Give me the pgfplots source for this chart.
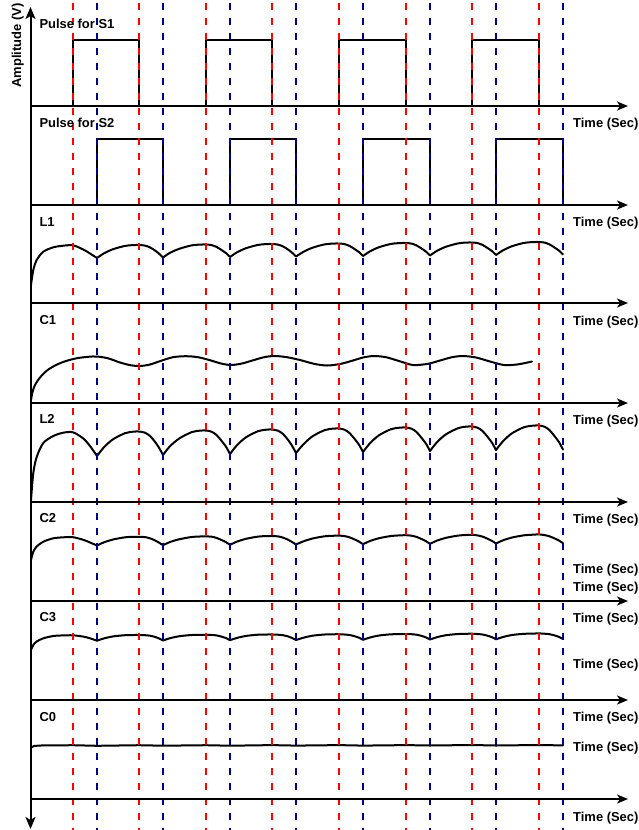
\documentclass[border=0pt]{standalone}
\usepackage{pgfplots}
\pgfplotsset{compat=1.18}
\usepackage{pgfplotstable}
\usepackage{fontspec}
\setmainfont{Liberation Sans}
\usetikzlibrary{arrows.meta}

\definecolor{guidered}{RGB}{255,0,0}
\definecolor{guideblue}{RGB}{0,0,128}

% Arched waveforms (x and y in drawing units, y measured downward).
% Rows with nan split each curve at its cusps.
\pgfplotstableread{
x L1 L2 C2 C3
31 285 500 560 650
33.3 270 473 551.7 645
36.7 260 457 546.5 641.5
43.3 251.7 443 541.7 638.3
53.3 247.3 436 538.3 636
63.3 245.7 432.7 537.3 635.4
73 245.3 432.3 537.2 635.3
83.3 249.5 438.5 539.8 636.6
90 253.5 446 542.5 638.3
97 258 456 545.5 640.7
97 nan nan nan nan
97 258 456 545.5 640.7
104 253.3 447.2 542.3 638.4
113 249.2 439.3 539.5 636.4
125 245.9 433.2 537.3 635.2
133 245.1 431.7 536.8 635.0
139 245 431.5 536.8 635.0
145 245.6 432.7 537.1 635.2
150 247.4 436.0 538.3 635.7
155 250.5 441.8 540.4 636.9
159 253.6 447.7 542.6 638.4
163 257.5 455 545.2 640.5
163 nan nan nan nan
163 257.5 455 545.2 640.5
170 252.8 446.2 542.0 638.2
179.5 248.7 438.3 539.2 636.2
191.5 245.4 432.2 537.0 635.0
199.5 244.6 430.7 536.5 634.8
206 244.5 430.5 536.4 634.8
211.5 245.1 431.7 536.7 634.9
216.5 246.9 435.0 537.9 635.4
221.5 250.0 440.8 540.0 636.6
226 253.1 446.7 542.2 638.1
230 257 454 544.8 640.2
230 nan nan nan nan
230 257 454 544.8 640.2
237 252.3 445.2 541.6 637.9
246 248.2 437.3 538.8 635.9
258 244.9 431.2 536.6 634.7
266 244.1 429.7 536.1 634.5
272 244 429.5 536.0 634.5
278 244.6 430.7 536.4 634.7
283 246.4 434.0 537.6 635.2
288 249.5 439.8 539.7 636.4
292 252.6 445.7 541.9 637.9
296 256.5 453 544.5 640.0
296 nan nan nan nan
296 256.5 453 544.5 640.0
303.5 251.8 444.2 541.3 637.7
312.5 247.7 436.3 538.5 635.7
324.5 244.4 430.2 536.3 634.5
332.5 243.6 428.7 535.8 634.3
339 243.5 428.5 535.6 634.2
344.5 244.1 429.7 536.1 634.5
349.5 245.9 433.0 537.3 635.0
354.5 249.0 438.8 539.4 636.2
359 252.1 444.7 541.6 637.7
363 256 452 544.2 639.8
363 nan nan nan nan
363 256 452 544.2 639.8
370 251.3 443.2 541.0 637.5
379 247.2 435.3 538.2 635.5
391 243.9 429.2 536.0 634.3
399.5 243.1 427.7 535.4 634.1
406 243 427.5 535.2 634.0
411.5 243.6 428.7 535.7 634.2
416.5 245.4 432.0 536.9 634.7
421.5 248.5 437.8 539.0 635.9
426 251.6 443.7 541.2 637.4
430 255.5 451 543.8 639.5
430 nan nan nan nan
430 255.5 451 543.8 639.5
437 250.8 442.2 540.6 637.2
446 246.7 434.3 537.8 635.2
458 243.4 428.2 535.6 634.0
465.5 242.6 426.7 535.0 633.8
472 242.5 426.5 534.8 633.7
477.5 243.1 427.7 535.4 634.0
482.5 244.9 431.0 536.6 634.5
487.5 248.0 436.8 538.7 635.7
492 251.1 442.7 540.9 637.2
496 255 450 543.5 639.3
496 nan nan nan nan
496 255 450 543.5 639.3
503 250.3 441.2 540.3 637.0
512 246.2 433.3 537.5 635.0
524 242.9 427.2 535.3 633.8
532.5 242.1 425.7 534.7 633.6
539 242 425.5 534.4 633.4
544.5 242.6 426.7 535.1 633.7
549.5 244.4 430.1 536.3 634.2
554.5 247.5 436.1 538.4 635.4
559 250.6 442.1 540.6 636.9
563 254.5 449.5 543.2 639.0
}\arches

\begin{document}
\begin{tikzpicture}[font=\bfseries\fontsize{13}{15}\selectfont]
\begin{axis}[
  at={(0,0)}, anchor=south west,
  width=639bp, height=830bp, scale only axis,
  xmin=0, xmax=639, ymin=0, ymax=830, y dir=reverse,
  hide axis, clip=false,
  unbounded coords=jump,
]
% switching pulses
\addplot[black, line width=2bp, line join=miter] coordinates {
  (73,106) (73,40) (139,40) (139,106) (139,nan)
  (206,106) (206,40) (272,40) (272,106) (272,nan)
  (339,106) (339,40) (406,40) (406,106) (406,nan)
  (472,106) (472,40) (539,40) (539,106)
};
\addplot[black, line width=2bp, line join=miter] coordinates {
  (97,205) (97,139) (163,139) (163,205) (163,nan)
  (230,205) (230,139) (296,139) (296,205) (296,nan)
  (363,205) (363,139) (430,139) (430,205) (430,nan)
  (496,205) (496,139) (563,139) (563,205)
};

% inductor and capacitor waveforms
\addplot[black, line width=2bp, smooth, line cap=round] table[x=x, y=L1] {\arches};
\addplot[black, line width=2bp, smooth, line cap=round] table[x=x, y=L2] {\arches};
\addplot[black, line width=2bp, smooth, line cap=round] table[x=x, y=C2] {\arches};
\addplot[black, line width=2bp, smooth, line cap=round] table[x=x, y=C3] {\arches};

\addplot[black, line width=2bp, smooth, line cap=round] coordinates {
  (31,400) (32.5,392) (35,385) (40,377.5) (47,370.5) (56,365) (66,361)
  (77,358.2) (88,356.8) (97,356.5) (108,358.3) (120,362.5) (131,365.3)
  (140,366) (150,364.5) (161,360.8) (173,357.2) (186,356.2) (198,357.2)
  (210,360.2) (221,363.5) (231,365) (242,363.5) (254,360) (265,357)
  (275,356) (287,357.2) (300,360) (314,363.8) (327,365.5) (340,364)
  (352,360.8) (363,357.5) (374,356) (386,357.2) (399,361) (413,365)
  (428,363.8) (440,360.5) (452,357.2) (463,356) (476,357.5) (490,361.5)
  (504,365) (517,364.5) (525,363) (532,361.5)
};

\addplot[black, line width=2bp, line cap=round] coordinates {
  (31,747.5) (34,746) (40,745.5) (73,745.2) (97,745.8) (139,745.2)
  (163,745.7) (206,745.2) (230,745.7) (272,745.1) (296,745.6)
  (339,745.1) (363,745.6) (406,745.1) (430,745.5) (472,745.0)
  (496,745.5) (539,745.0) (563,745.4)
};

% switching instants
\pgfplotsinvokeforeach{73,139,206,272,339,406,472,539}{
  \draw[guidered, line width=2bp, dash pattern=on 7.5bp off 7.5bp, dash phase=12.5bp]
    (axis cs:#1,0) -- (axis cs:#1,830);
}
\pgfplotsinvokeforeach{97,163,230,296,363,430,496,563}{
  \draw[guideblue, line width=2bp, dash pattern=on 7.5bp off 7.5bp, dash phase=12.5bp]
    (axis cs:#1,0) -- (axis cs:#1,830);
}

% time axes
\pgfplotsinvokeforeach{106,205,303,403,502,601,700,799}{
  \draw[black, line width=2bp, -{Stealth[length=11bp, width=9bp, inset=3bp]}]
    (axis cs:30.5,#1) -- (axis cs:628,#1);
}
% amplitude axis
\draw[black, line width=2bp,
  {Stealth[length=12bp, width=10bp, inset=3bp]}-{Stealth[length=12bp, width=10bp, inset=3bp]}]
  (axis cs:30.5,7) -- (axis cs:30.5,829);

\node[rotate=90, anchor=base] at (axis cs:21,45.5) {Amplitude (V)};

\pgfplotsinvokeforeach{127.5,226.5,325.5,424.5,523.5,573.5,591.5,622.5,668.5,721.5,751.5,821.5}{
  \node[anchor=base west, inner sep=0pt] at (axis cs:573,#1) {Time (Sec)};
}

\node[anchor=base west, inner sep=0pt] at (axis cs:39.3,28.5) {Pulse for S1};
\node[anchor=base west, inner sep=0pt] at (axis cs:39.3,127.2) {Pulse for S2};
\node[anchor=base west, inner sep=0pt] at (axis cs:39.3,226.2) {L1};
\node[anchor=base west, inner sep=0pt] at (axis cs:39.3,324.5) {C1};
\node[anchor=base west, inner sep=0pt] at (axis cs:39.3,423.8) {L2};
\node[anchor=base west, inner sep=0pt] at (axis cs:39.3,522.8) {C2};
\node[anchor=base west, inner sep=0pt] at (axis cs:39.3,621.8) {C3};
\node[anchor=base west, inner sep=0pt] at (axis cs:39.3,721.2) {C0};
\end{axis}
\pgfresetboundingbox
\path (0,0) rectangle (639bp,830bp);
\end{tikzpicture}
\end{document}
